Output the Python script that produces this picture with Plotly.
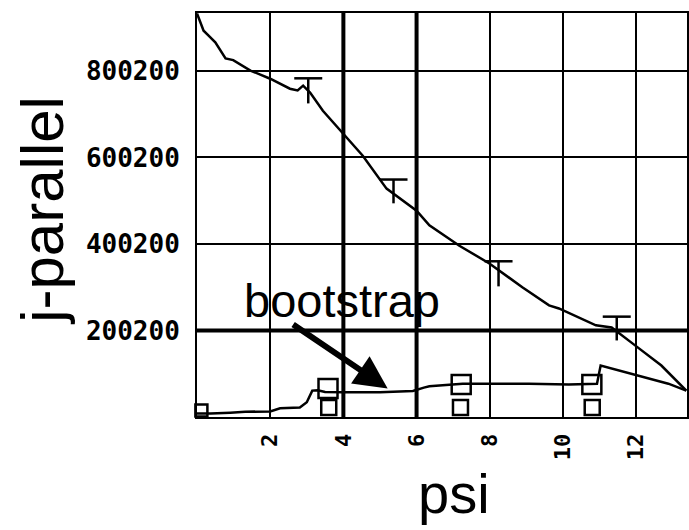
import plotly.graph_objects as go

# ---- data ----
total_psi = [0.0, 0.18, 0.31, 0.5, 0.78, 0.99, 1.46, 2.0, 2.54, 2.75, 2.9, 3.09, 3.44, 3.99,
             4.53, 5.18, 6.0, 6.35, 7.17, 7.99, 8.89, 9.62, 9.89, 10.9, 11.33, 11.98, 12.69, 13.37]
total_j = [933000, 893000, 882000, 866000, 829000, 825000, 801000, 782000, 759000, 755000,
           766000, 750000, 708000, 655000, 604000, 528000, 477000, 443000, 396000, 355000,
           300000, 258000, 251000, 212000, 207000, 165000, 119000, 61000]

boot_psi = [0.0, 0.37, 0.91, 1.32, 2.0, 2.27, 2.81, 3.0, 3.15, 3.3, 3.5, 4.0, 5.0, 5.9, 6.2,
            6.35, 7.26, 8.17, 9.07, 10.16, 10.93, 11.03, 12.15, 12.88, 13.37]
boot_j = [8000, 8000, 10000, 12000, 13000, 20000, 22000, 34000, 61000, 62000, 58000, 57000,
          57000, 60000, 68000, 71000, 77000, 77000, 77000, 75000, 77000, 119000, 94000, 77000, 61000]

err_psi = [3.04, 5.37, 8.24, 11.47]
err_top = [783000, 549000, 360000, 232000]
err_bottom = [725000, 494000, 302000, 177000]

mark_psi = [3.58, 7.22, 10.79]
mark_j = [66000, 75000, 75000]
low_mark_psi = [0.12, 3.6, 7.2, 10.8]
low_mark_j = [15000, 22000, 22000, 22000]

x_ticks = [2, 4, 6, 8, 10, 12]
x_ticktext = ["2", "4", "6", "8", "10", "12"]
y_ticks = [200000, 400000, 600000, 800000]
y_ticktext = ["200200", "400200", "600200", "800200"]

arrow_psi, arrow_j = 5.21, 66000
label_psi, label_j = 3.96, 270000

fig = go.Figure()
fig.add_trace(go.Scatter(x=total_psi, y=total_j, mode="lines",
                         line=dict(color="black", width=2.5), showlegend=False))
fig.add_trace(go.Scatter(x=boot_psi, y=boot_j, mode="lines",
                         line=dict(color="black", width=2.5), showlegend=False))
fig.add_trace(go.Scatter(
    x=err_psi, y=err_top, mode="markers",
    marker=dict(symbol="line-ew", size=20, line=dict(color="black", width=2.5)),
    error_y=dict(type="data", symmetric=False, array=[0] * len(err_psi),
                 arrayminus=[t - b for t, b in zip(err_top, err_bottom)],
                 color="black", thickness=2.5, width=0),
    showlegend=False))
fig.add_trace(go.Scatter(x=mark_psi, y=mark_j, mode="markers",
                         marker=dict(symbol="square-open", size=19, color="black",
                                     line=dict(width=2.5, color="black")),
                         opacity=1, showlegend=False))
fig.add_trace(go.Scatter(x=low_mark_psi, y=low_mark_j, mode="markers",
                         marker=dict(symbol="square-open", size=[12, 15, 15, 15], color="black",
                                     opacity=1, line=dict(width=2.5, color="black")),
                         opacity=1, cliponaxis=False, showlegend=False))

# emphasised grid lines
for xv in x_ticks[1:3]:
    fig.add_shape(type="line", xref="x", yref="paper", x0=xv, x1=xv, y0=0, y1=1,
                  line=dict(color="black", width=4), layer="below")
fig.add_shape(type="line", xref="paper", yref="y", x0=0, x1=1, y0=y_ticks[0], y1=y_ticks[0],
              line=dict(color="black", width=4), layer="below")

fig.add_annotation(x=arrow_psi, y=arrow_j, ax=-96, ay=-65, text="", showarrow=True,
                   arrowhead=2, arrowsize=1.1, arrowwidth=6, arrowcolor="black")
fig.add_annotation(x=label_psi, y=label_j, text="bootstrap", showarrow=False,
                   font=dict(family="Liberation Sans", size=47, color="black"),
                   xanchor="center", yanchor="middle")
fig.add_annotation(xref="paper", yref="paper", x=0.524, y=-0.19, text="psi", showarrow=False,
                   font=dict(family="Liberation Sans", size=56, color="black"),
                   xanchor="center", yanchor="middle")
fig.add_annotation(xref="paper", yref="paper", x=-0.317, y=0.512, text="j-parallel",
                   showarrow=False, textangle=-90,
                   font=dict(family="Liberation Sans", size=60, color="black"),
                   xanchor="center", yanchor="middle")

fig.update_layout(
    width=689, height=530,
    margin=dict(l=197, r=0, t=13, b=113),
    plot_bgcolor="white", paper_bgcolor="white",
    xaxis=dict(range=[0, 13.39], tickvals=x_ticks, ticktext=x_ticktext, tickangle=-90,
               tickfont=dict(family="DejaVu Sans Mono", size=22, color="black", weight="bold"),
               ticklabelstandoff=6,
               showgrid=True, gridcolor="black", gridwidth=2,
               showline=True, linecolor="black", linewidth=2, mirror=True,
               ticks="", ticklen=0, zeroline=False),
    yaxis=dict(range=[0, 934000], tickvals=y_ticks, ticktext=y_ticktext,
               tickfont=dict(family="DejaVu Sans Mono", size=26, color="black", weight="bold"),
               ticklabelstandoff=10,
               showgrid=True, gridcolor="black", gridwidth=2,
               showline=True, linecolor="black", linewidth=2, mirror=True,
               ticks="", ticklen=0, zeroline=False),
)

fig.write_html("out.html")
